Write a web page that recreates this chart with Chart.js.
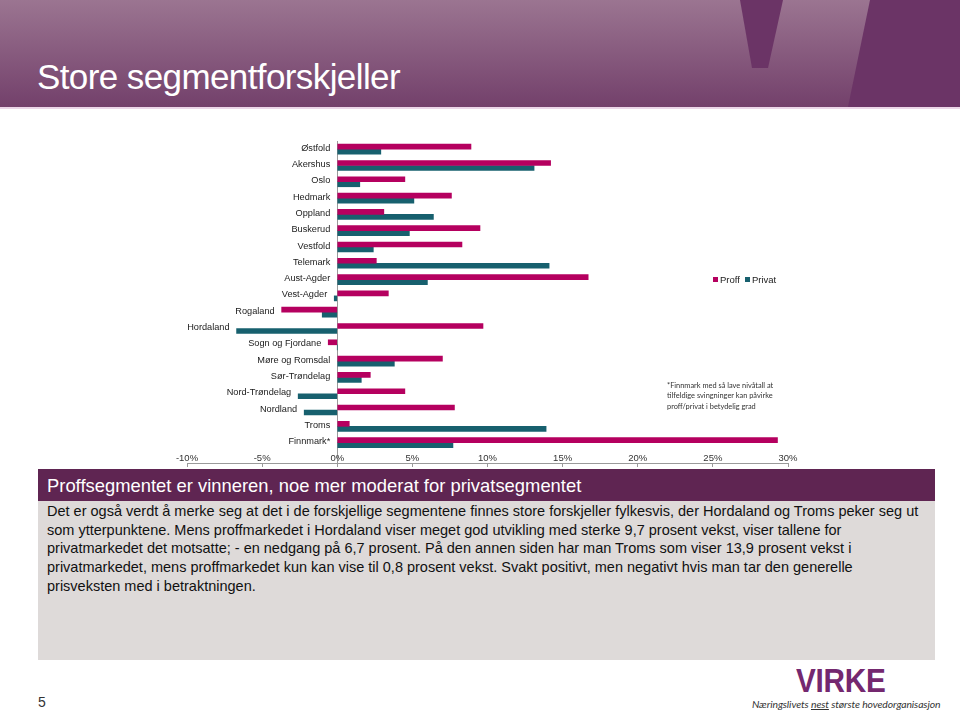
<!DOCTYPE html>
<html>
<head>
<meta charset="utf-8">
<script src="https://cdn.jsdelivr.net/npm/chart.js@4/dist/chart.umd.min.js"></script>
<style>
  body { margin: 0; width: 960px; height: 717px; background: #fff; position: relative; overflow: hidden; font-family: "Liberation Sans", Arial, sans-serif; }
  #header { position: absolute; left: 0; top: 0; width: 960px; height: 107px; background: linear-gradient(#9b7591, #73406b); border-bottom: 2px solid #ecd6e8; }
  #header svg { position: absolute; left: 0; top: 0; }
  #title { position: absolute; left: 37px; top: 57px; color: #fff; font-size: 35px; letter-spacing: -0.6px; }
  #wrap { position: absolute; left: 150px; top: 128px; width: 670px; height: 347px; }
  #legend { position: absolute; left: 713px; top: 274px; font-size: 9.5px; color: #222; }
  #legend span.box { display: inline-block; width: 5px; height: 5px; margin-right: 2px; vertical-align: 1px; }
  #legend span.item { margin-right: 5px; }
  #note { position: absolute; left: 667px; top: 381px; font-family: Lato, sans-serif; font-size: 7.4px; line-height: 10.3px; color: #333; }
  #band { position: absolute; left: 38px; top: 469px; width: 897px; height: 32px; background: #5f2552; color: #fff; font-size: 18.4px; }
  #band div { position: absolute; left: 9px; top: 6px; white-space: nowrap; }
  #box { position: absolute; left: 38px; top: 501px; width: 897px; height: 159px; background: #dedad9; color: #111; font-size: 14.5px; line-height: 18.7px; }
  #box div { position: absolute; left: 9px; top: 1px; white-space: nowrap; }
  #page { position: absolute; left: 38px; top: 694px; font-size: 14px; color: #333; }
  #logo { position: absolute; left: 796px; top: 662px; font-weight: bold; font-size: 33px; color: #74286f; transform: scaleX(0.9); transform-origin: left top; letter-spacing: -0.3px; }
  #tag { position: absolute; left: 752px; top: 698px; font-family: Lato, sans-serif; font-style: italic; font-size: 10.4px; color: #333; white-space: nowrap; letter-spacing: -0.1px; }
</style>
</head>
<body>
<div id="header">
  <svg width="960" height="107">
    <polygon points="740,0 783,0 768,68 752,68" fill="#6b3466"/>
    <polygon points="870,0 960,0 960,107 848,107" fill="#6b3466"/>
  </svg>
  <div id="title">Store segmentforskjeller</div>
</div>

<div id="wrap"><canvas id="chart"></canvas></div>
<div id="legend"></div>
<div id="note">*Finnmark med så lave nivåtall at<br>tilfeldige svingninger kan påvirke<br>proff/privat i betydelig grad</div>

<div id="band"><div>Proffsegmentet er vinneren, noe mer moderat for privatsegmentet</div></div>
<div id="box"><div>Det er også verdt å merke seg at det i de forskjellige segmentene finnes store forskjeller fylkesvis, der Hordaland og Troms peker seg ut<br>som ytterpunktene. Mens proffmarkedet i Hordaland viser meget god utvikling med sterke 9,7 prosent vekst, viser tallene for<br>privatmarkedet det motsatte; - en nedgang på 6,7 prosent. På den annen siden har man Troms som viser 13,9 prosent vekst i<br>privatmarkedet, mens proffmarkedet kun kan vise til 0,8 prosent vekst. Svakt positivt, men negativt hvis man tar den generelle<br>prisveksten med i betraktningen.</div></div>

<div id="page">5</div>
<div id="logo">VIRKE</div>
<div id="tag">Næringslivets <u>nest</u> største hovedorganisasjon</div>

<script>
// fylker, top to bottom
var categories = ['Østfold', 'Akershus', 'Oslo', 'Hedmark', 'Oppland', 'Buskerud', 'Vestfold', 'Telemark',
  'Aust-Agder', 'Vest-Agder', 'Rogaland', 'Hordaland', 'Sogn og Fjordane', 'Møre og Romsdal',
  'Sør-Trøndelag', 'Nord-Trøndelag', 'Nordland', 'Troms', 'Finnmark*'];

// growth in percent
var proff = [8.9, 14.2, 4.5, 7.6, 3.1, 9.5, 8.3, 2.6, 16.7, 3.4, -3.7, 9.7, -0.6, 7.0, 2.2, 4.5, 7.8, 0.8, 29.3];
var privat = [2.9, 13.1, 1.5, 5.1, 6.4, 4.8, 2.4, 14.1, 6.0, -0.2, -1.0, -6.7, 0, 3.8, 1.6, -2.6, -2.2, 13.9, 7.7];

var xTicks = [-10, -5, 0, 5, 10, 15, 20, 25, 30];

var seriesNames = ['Proff', 'Privat'];
var seriesColors = ['#b5005f', '#17606e'];

// category names sit just left of the leftmost bar (or the axis)
var sideLabels = {
  id: 'sideLabels',
  afterDatasetsDraw: function(chart) {
    var ctx = chart.ctx;
    var sx = chart.scales.x, sy = chart.scales.y;
    ctx.save();
    ctx.font = '9.2px "Liberation Sans", Arial, sans-serif';
    ctx.fillStyle = '#1a1a1a';
    ctx.textAlign = 'right';
    ctx.textBaseline = 'middle';
    categories.forEach(function(name, i) {
      var lo = Math.min(0, proff[i], privat[i]);
      ctx.fillText(name, sx.getPixelForValue(lo) - 7, sy.getPixelForValue(i) - 1);
    });
    ctx.restore();
  }
};

var ctx = document.getElementById('chart').getContext('2d');
var chart = new Chart(ctx, {
  type: 'bar',
  data: {
    labels: categories,
    datasets: [
      { label: seriesNames[0], data: proff, backgroundColor: seriesColors[0] },
      { label: seriesNames[1], data: privat, backgroundColor: seriesColors[1] }
    ]
  },
  options: {
    indexAxis: 'y',
    responsive: true,
    maintainAspectRatio: false,
    animation: false,
    barThickness: 5,
    layout: { padding: { left: 37, right: 32, top: 13, bottom: 12 } },
    plugins: { legend: { display: false }, tooltip: { enabled: false } },
    scales: {
      x: {
        type: 'linear',
        min: -10,
        max: 30,
        afterBuildTicks: function(s) { s.ticks = xTicks.map(function(v) { return { value: v }; }); },
        ticks: {
          callback: function(v) { return v + '%'; },
          font: { size: 9.5, family: '"Liberation Sans", Arial, sans-serif' },
          color: '#333',
          padding: -14,
          maxRotation: 0
        },
        grid: {
          color: function(c) { return c.tick && c.tick.value === 0 ? '#9a9a9a' : 'rgba(0,0,0,0)'; },
          tickColor: '#9a9a9a',
          tickLength: 4
        },
        border: { color: '#9a9a9a' }
      },
      y: {
        type: 'category',
        display: false,
        offset: true,
        // leave some room under the last fylke before the axis line
        afterBuildTicks: function(s) { s._valueRange += 0.75; }
      }
    }
  },
  plugins: [sideLabels]
});

// legend
var lg = document.getElementById('legend');
seriesNames.forEach(function(n, i) {
  lg.innerHTML += '<span class="item"><span class="box" style="background:' + seriesColors[i] + '"></span>' + n + '</span>';
});
</script>
</body>
</html>
